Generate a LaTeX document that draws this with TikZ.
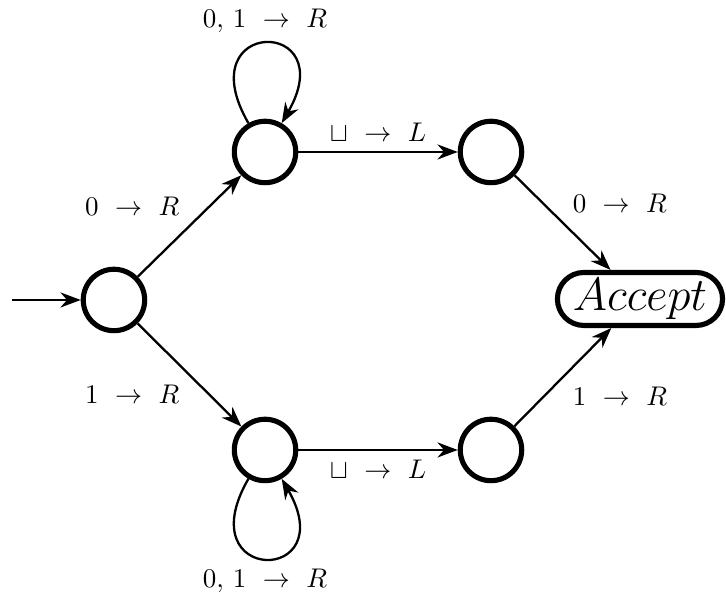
\documentclass[tikz,border=0pt]{standalone}
\usepackage{amsmath, amssymb}
\usepackage{tikz}
\usetikzlibrary{arrows.meta, positioning}

\begin{document}
\begin{tikzpicture}[
        % Style for the states
        state/.style={
            circle,
            draw=black,
            line width=1.9pt,
            fill=white,
            minimum size=0.8cm,
            inner sep=0pt
        },
        % Style for the accepting state
        haltbox/.style={
            rectangle,
            rounded corners=9.8pt,
            draw=black,
            line width=1.9pt,
            fill=white,
            minimum width=2.15cm,
            minimum height=0.69cm,
            inner sep=1pt,
            font=\LARGE
        },
        % Style for the transitions
        arrow/.style={
            line width=0.85pt,
            -{Stealth[length=7.5pt, width=5.6pt]}
        }
    ]
        \useasboundingbox (0,0) rectangle (9.453,7.799);

        % States at coordinates
        \node[state] (start) at (1.484, 3.893) {};
        \node[state] (read0) at (3.451, 5.820) {};
        \node[state] (back0) at (6.393, 5.820) {};
        \node[state] (read1) at (3.451, 1.940) {};
        \node[state] (back1) at (6.393, 1.940) {};
        \node[haltbox] (accept) at (8.333, 3.906) {$Accept$};

        \coordinate (entry) at (0.156, 3.893);

        % --- TRANSITIONS ---

        % 1. Entry
        \draw[arrow] (entry) -- (start);

        % 2. First symbol
        \draw[arrow] (start) -- node[above left] {$0\ \rightarrow\ R$} (read0);
        \draw[arrow] (start) -- node[below left] {$1\ \rightarrow\ R$} (read1);

        % 3. Skip the rest, then step back at the blank
        \draw[arrow] (read0) to[out=120, in=60, distance=1.6cm]
              node[above] {$0,\,1\ \rightarrow\ R$} (read0);
        \draw[arrow] (read1) to[out=-120, in=-60, distance=1.6cm]
              node[below] {$0,\,1\ \rightarrow\ R$} (read1);
        \draw[arrow] (read0) -- node[above] {$\sqcup\ \rightarrow\ L$} (back0);
        \draw[arrow] (read1) -- node[below] {$\sqcup\ \rightarrow\ L$} (back1);

        % 4. Last symbol matches the first one
        \draw[arrow] (back0) -- node[above right] {$0\ \rightarrow\ R$} (accept);
        \draw[arrow] (back1) -- node[below right] {$1\ \rightarrow\ R$} (accept);

    \end{tikzpicture}
\end{document}
